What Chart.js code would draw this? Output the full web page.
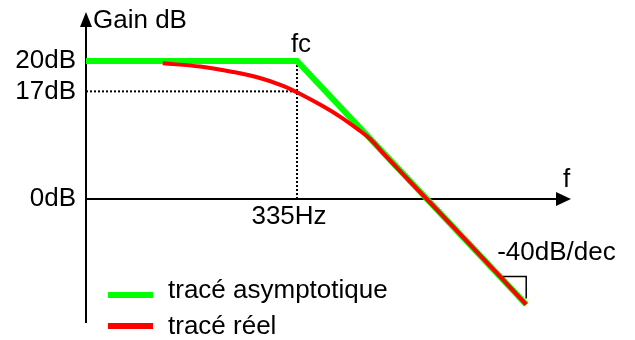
<!DOCTYPE html>
<html>
<head>
<meta charset="utf-8">
<script src="https://cdn.jsdelivr.net/npm/chart.js@4/dist/chart.umd.min.js"></script>
<style>
  html, body { margin: 0; padding: 0; background: #fff; }
</style>
</head>
<body>
<canvas id="bode" width="635" height="340"></canvas>
<script>
// Asymptotic and real gain curves (f in Hz, gain in dB)
const asymptFreq = [51.7, 335, 2550];
const asymptGain = [20, 20, -15.3];
const realFreq = [102, 142, 190, 241, 296, 335, 422, 490, 570, 640, 730, 996, 1600, 2550];
const realGain = [19.67, 19.19, 18.41, 17.54, 16.41, 15.46, 13.43, 11.94, 10.19, 8.7, 6.35, 1.0, -7.16, -15.3];

// Axis ticks
const gainTicks = [0, 15.6, 20];
const gainTickLabels = ['0dB', '17dB', '20dB'];
const freqTicks = [335];
const freqTickLabels = ['335Hz'];
const seriesLabels = ['tracé asymptotique', 'tracé réel'];

const FONT = '"Liberation Sans", Arial, sans-serif';
Chart.defaults.font.family = FONT;
Chart.defaults.font.size = 26;
Chart.defaults.color = '#000';

const toPoints = (xs, ys) => xs.map((f, i) => ({ x: f, y: ys[i] }));

const annotations = {
    id: 'annotations',
    afterDraw(chart) {
        const { ctx, chartArea, scales: { x, y } } = chart;
        const y0 = y.getPixelForValue(0);
        ctx.save();
        ctx.fillStyle = '#000';
        ctx.strokeStyle = '#000';

        // arrow heads
        ctx.beginPath();
        ctx.moveTo(chartArea.left, chartArea.top - 15);
        ctx.lineTo(chartArea.left - 6, chartArea.top);
        ctx.lineTo(chartArea.left + 6, chartArea.top);
        ctx.closePath();
        ctx.fill();
        ctx.beginPath();
        ctx.moveTo(chartArea.right + 15, y0);
        ctx.lineTo(chartArea.right, y0 - 7);
        ctx.lineTo(chartArea.right, y0 + 7);
        ctx.closePath();
        ctx.fill();

        // labels
        ctx.font = '26px ' + FONT;
        ctx.textBaseline = 'alphabetic';
        ctx.textAlign = 'left';
        ctx.fillText('Gain dB', chartArea.left + 7, chartArea.top + 1);
        ctx.fillText('f', chartArea.right + 7, y0 - 12);
        ctx.textAlign = 'center';
        ctx.fillText('fc', x.getPixelForValue(335) + 4, y.getPixelForValue(20) - 9);

        // slope marker
        const ex = x.getPixelForValue(asymptFreq[2]);
        const ey = y.getPixelForValue(asymptGain[2]);
        ctx.textAlign = 'left';
        ctx.fillText('-40dB/dec', ex - 29, ey - 45);
        ctx.lineWidth = 1.5;
        ctx.beginPath();
        ctx.moveTo(ex - 23, ey - 28);
        ctx.lineTo(ex, ey - 28);
        ctx.lineTo(ex, ey - 6);
        ctx.stroke();

        // legend
        const items = [1, 0];
        items.forEach((di, k) => {
            const ds = chart.data.datasets[di];
            const ly = 295 + k * 31;
            ctx.strokeStyle = ds.borderColor;
            ctx.lineWidth = 6;
            ctx.beginPath();
            ctx.moveTo(108, ly);
            ctx.lineTo(153, ly);
            ctx.stroke();
            ctx.fillStyle = '#000';
            ctx.fillText(ds.label, 168, ly + 3 + k * 5);
        });
        ctx.restore();
    }
};

new Chart(document.getElementById('bode'), {
    type: 'line',
    data: {
        datasets: [
            {
                label: seriesLabels[1],
                data: toPoints(realFreq, realGain),
                borderColor: '#ff0000',
                borderWidth: 4,
                pointRadius: 0,
                tension: 0.4
            },
            {
                label: seriesLabels[0],
                data: toPoints(asymptFreq, asymptGain),
                borderColor: '#00ff00',
                borderWidth: 6,
                pointRadius: 0,
                tension: 0
            },
            {
                label: 'guide17',
                data: [{ x: asymptFreq[0], y: gainTicks[1] }, { x: freqTicks[0], y: gainTicks[1] }],
                borderColor: '#000',
                borderWidth: 2,
                borderDash: [2, 2],
                pointRadius: 0
            },
            {
                label: 'guideFc',
                data: [{ x: freqTicks[0], y: asymptGain[1] }, { x: freqTicks[0], y: 0 }],
                borderColor: '#000',
                borderWidth: 2,
                borderDash: [2, 2],
                pointRadius: 0
            }
        ]
    },
    options: {
        responsive: false,
        animation: false,
        events: [],
        layout: { padding: { left: 0, right: 79, top: 27, bottom: 18 } },
        plugins: { legend: { display: false }, tooltip: { enabled: false } },
        scales: {
            x: {
                type: 'logarithmic',
                min: 51.7,
                max: 3320,
                position: { y: 0 },
                grid: { display: false, drawTicks: false },
                border: { display: true, color: '#000', width: 2 },
                ticks: {
                    autoSkip: false,
                    maxRotation: 0,
                    padding: 2,
                    labelOffset: -8,
                    callback: (v, i) => freqTickLabels[i]
                },
                afterBuildTicks: (scale) => { scale.ticks = freqTicks.map(v => ({ value: v })); },
                afterFit: (scale) => {
                    scale.height = 0;
                    scale.paddingLeft = 0;
                    scale.paddingRight = 0;
                }
            },
            y: {
                type: 'linear',
                min: -17.83,
                max: 24.93,
                position: 'left',
                grid: { display: false, drawTicks: false },
                border: { display: true, color: '#000', width: 2 },
                ticks: {
                    autoSkip: false,
                    padding: 10,
                    callback: (v, i) => gainTickLabels[i]
                },
                afterBuildTicks: (scale) => { scale.ticks = gainTicks.map(v => ({ value: v })); },
                afterFit: (scale) => {
                    scale.width = 86;
                    scale.paddingTop = 0;
                    scale.paddingBottom = 0;
                }
            }
        }
    },
    plugins: [annotations]
});
</script>
</body>
</html>
